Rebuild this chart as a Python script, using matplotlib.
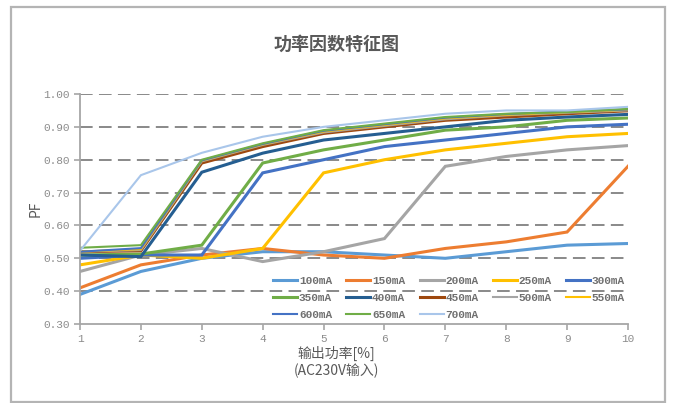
import numpy as np
import matplotlib
matplotlib.use('Agg')
import matplotlib.pyplot as plt
from matplotlib.patches import Rectangle

plt.rcParams['font.family'] = ['Noto Sans CJK SC', 'DejaVu Sans']

x = [1, 2, 3, 4, 5, 6, 7, 8, 9, 10]
labels = ['100mA', '150mA', '200mA', '250mA', '300mA', '350mA', '400mA',
          '450mA', '500mA', '550mA', '600mA', '650mA', '700mA']
pf_100 = [0.39, 0.46, 0.50, 0.52, 0.52, 0.51, 0.50, 0.52, 0.54, 0.545]
pf_150 = [0.41, 0.48, 0.51, 0.53, 0.51, 0.50, 0.53, 0.55, 0.58, 0.78]
pf_200 = [0.46, 0.51, 0.53, 0.49, 0.52, 0.56, 0.78, 0.81, 0.83, 0.843]
pf_250 = [0.48, 0.51, 0.50, 0.53, 0.76, 0.80, 0.83, 0.85, 0.87, 0.88]
pf_300 = [0.50, 0.51, 0.51, 0.76, 0.80, 0.84, 0.86, 0.88, 0.90, 0.908]
pf_350 = [0.51, 0.513, 0.54, 0.79, 0.83, 0.86, 0.89, 0.90, 0.92, 0.927]
pf_400 = [0.51, 0.505, 0.762, 0.82, 0.86, 0.88, 0.90, 0.92, 0.93, 0.938]
pf_450 = [0.52, 0.523, 0.79, 0.84, 0.88, 0.90, 0.92, 0.93, 0.94, 0.949]
pf_500 = [0.52, 0.525, 0.795, 0.845, 0.883, 0.903, 0.923, 0.935, 0.943, 0.95]
pf_550 = [0.52, 0.528, 0.797, 0.847, 0.886, 0.906, 0.926, 0.937, 0.945, 0.952]
pf_600 = [0.52, 0.531, 0.798, 0.848, 0.888, 0.908, 0.928, 0.939, 0.947, 0.953]
pf_650 = [0.532, 0.54, 0.80, 0.85, 0.89, 0.91, 0.93, 0.94, 0.945, 0.955]
pf_700 = [0.523, 0.753, 0.821, 0.87, 0.90, 0.92, 0.94, 0.95, 0.95, 0.961]

series = [pf_100, pf_150, pf_200, pf_250, pf_300, pf_350, pf_400,
          pf_450, pf_500, pf_550, pf_600, pf_650, pf_700]
colors = ['#5B9BD5', '#ED7D31', '#A5A5A5', '#FFC000', '#4472C4', '#70AD47',
          '#255E91', '#9E480E', '#A5A5A5', '#FFC000', '#4472C4', '#70AD47',
          '#A9C6EA']
widths = [2.2] * 8 + [1.5] * 5

fig = plt.figure(figsize=(6.73, 4.03), dpi=100)
ax = fig.add_axes([0.1189, 0.196, 0.8142, 0.5707])

# outer chart frame
fig.patches.append(Rectangle((11 / 673, 1 / 403), 654 / 673, 395 / 403,
                             transform=fig.transFigure, fill=False,
                             edgecolor='#B4B4B4', linewidth=1.6))

handles = []
for ys, c, w, lab in zip(series, colors, widths, labels):
    h, = ax.plot(x, ys, color=c, linewidth=w, label=lab, solid_joinstyle='miter')
    handles.append(h)

ax.set_xlim(1, 10)
ax.set_ylim(0.30, 1.00)
ax.set_xticks(x)
ax.set_yticks(np.arange(0.3, 1.001, 0.1))
ax.set_yticklabels(['%.2f' % v for v in np.arange(0.3, 1.001, 0.1)])
for v in np.arange(0.4, 1.001, 0.1):
    ax.axhline(v, color='#808080', linewidth=1.3, dashes=(7, 3.5), zorder=0)

for s in ['top', 'right']:
    ax.spines[s].set_visible(False)
for s in ['left', 'bottom']:
    ax.spines[s].set_color('#A6A6A6')
    ax.spines[s].set_linewidth(1.3)
ax.tick_params(colors='#A6A6A6', width=1.2, length=4, direction='out')
for t in ax.get_xticklabels() + ax.get_yticklabels():
    t.set_family('Liberation Mono')
    t.set_fontsize(8)
    t.set_color('#8C8C8C')

ax.set_ylabel('PF', fontsize=10, color='#595959', labelpad=0.5)
fig.text(0.5, 0.123, '输出功率[%]', ha='center', va='center',
         fontsize=10, color='#595959')
fig.text(0.5, 0.079, '(AC230V输入)', ha='center', va='center',
         fontsize=10, color='#595959')
fig.text(0.5, 0.89, '功率因数特征图', ha='center', va='center',
         fontsize=13, fontweight='bold', color='#595959')

# matplotlib fills legend columns first; reorder so it reads across rows
order = [0, 5, 10, 1, 6, 11, 2, 7, 12, 3, 8, 4, 9]
leg = ax.legend([handles[i] for i in order], [labels[i] for i in order],
                ncol=5, loc='lower right', bbox_to_anchor=(1.012, -0.024),
                frameon=False, prop={'family': 'Liberation Mono', 'size': 8,
                                     'weight': 'bold'},
                handlelength=2.15, handletextpad=0.15, columnspacing=1.3,
                labelspacing=0.62, labelcolor='#6F6F6F')

fig.savefig('out.png', dpi=100)
